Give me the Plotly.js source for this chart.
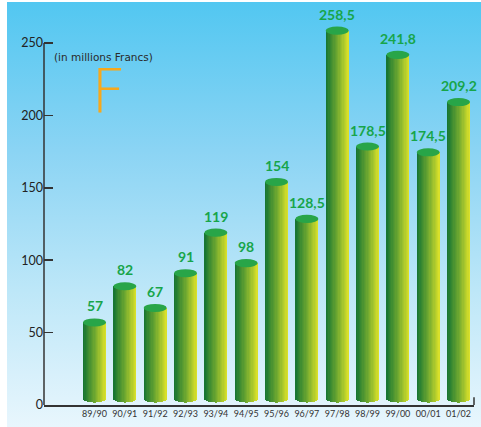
<!DOCTYPE html>
<html><head><meta charset="utf-8">
<script src="https://cdn.plot.ly/plotly-3.0.1.min.js"></script>
<style>
html,body{margin:0;padding:0;background:#fff;}
#wrap{position:relative;width:481px;height:427px;overflow:hidden;}
#bg{position:absolute;left:7px;top:2px;right:0;bottom:0;background:linear-gradient(to bottom,#52c7f1 0%,#8bd4f4 35%,#bde7f8 68%,#e8f6fd 100%);}
#chart{position:absolute;left:0;top:0;width:481px;height:427px;}
</style></head>
<body><div id="wrap"><div id="bg"></div><div id="chart"></div></div>
<script>
const seasons = ["89/90","90/91","91/92","92/93","93/94","94/95","95/96","96/97","97/98","98/99","99/00","00/01","01/02"];
const amounts = [57, 82, 67, 91, 119, 98, 154, 128.5, 258.5, 178.5, 241.8, 174.5, 209.2];
const yTicks = [0, 50, 100, 150, 200, 250];
const yAxisTop = 250;

const N = 18, W = 0.76, RY = 2.8, B0 = 4.5;
const stops = [[24,118,50],[110,168,48],[216,224,42]];
function col(f){
  const s = f < 0.5 ? 0 : 1, g = f < 0.5 ? f/0.5 : (f-0.5)/0.5;
  const a = stops[s], b = stops[s+1];
  return 'rgb(' + a.map((v,k)=>Math.round(v+(b[k]-v)*g)).join(',') + ')';
}
const traces = [];
for (let j = 0; j < N; j++) {
  const t = -1 + (2*j+1)/N;
  const base = B0 - RY*Math.sqrt(1 - t*t);
  traces.push({
    type: 'bar', x: seasons, y: amounts.map(v => v - base),
    base: amounts.map(() => base),
    width: amounts.map(() => W/N*1.08),
    offset: amounts.map(() => -W/2 + j*W/N),
    marker: {color: col(j/(N-1)), line: {width: 0}},
    hoverinfo: 'skip', showlegend: false
  });
}
const shapes = amounts.map((v,i) => ({
  type: 'circle', xref: 'x', yref: 'y', layer: 'above',
  x0: i - W/2, x1: i + W/2, y0: v - RY, y1: v + RY,
  fillcolor: '#28a548', line: {width: 0}
}));
shapes.push({type:'line', xref:'paper', yref:'y', x0:0, x1:0, y0:0, y1:yAxisTop, line:{color:'#333', width:1.5}});
shapes.push({type:'line', xref:'paper', yref:'paper', x0:1, x1:1, y0:0, y1:0.02, line:{color:'#333', width:1.5}});
const annotations = amounts.map((v,i) => ({
  x: seasons[i], y: v, xref: 'x', yref: 'y', yanchor: 'bottom', yshift: 6,
  text: String(v).replace('.', ','), showarrow: false,
  font: {family: 'Lato, "Noto Sans", sans-serif', size: 14, weight: 'bold', color: '#17a54a'}
}));
annotations.push({xref:'paper', yref:'y', x:0.018, y:240, xanchor:'left', yanchor:'middle', showarrow:false,
  text:'(in millions Francs)', font:{family:'DejaVu Sans', size:10.5, color:'#2a2a2a'}});
annotations.push({xref:'paper', yref:'y', x:0.105, y:217.5, xanchor:'left', yanchor:'middle', showarrow:false,
  text:'F', font:{family:'DejaVu Sans', size:61, weight:200, color:'#f7a81c'}});

const layout = {
  width: 481, height: 427,
  margin: {l: 44, r: 7, t: 14, b: 22},
  paper_bgcolor: 'rgba(0,0,0,0)', plot_bgcolor: 'rgba(0,0,0,0)',
  barmode: 'overlay', bargap: 0,
  showlegend: false,
  xaxis: {type: 'category', range: [-1.665, 12.51], showgrid: false, zeroline: false,
    showline: true, linecolor: '#333', linewidth: 1.5, ticks: '', ticklen: 0,
    tickfont: {family: 'Lato, "Noto Sans", sans-serif', size: 9, color: '#333'}},
  yaxis: {range: [0, 270], tickvals: yTicks, showgrid: false, zeroline: false,
    showline: false, ticks: 'inside', ticklen: 9,
    tickcolor: '#333', tickwidth: 1.5,
    tickfont: {family: 'Lato, "Noto Sans", sans-serif', size: 12.5, color: '#222'}},
  shapes: shapes, annotations: annotations
};
Plotly.newPlot('chart', traces, layout, {displayModeBar: false, staticPlot: true});
</script></body></html>
